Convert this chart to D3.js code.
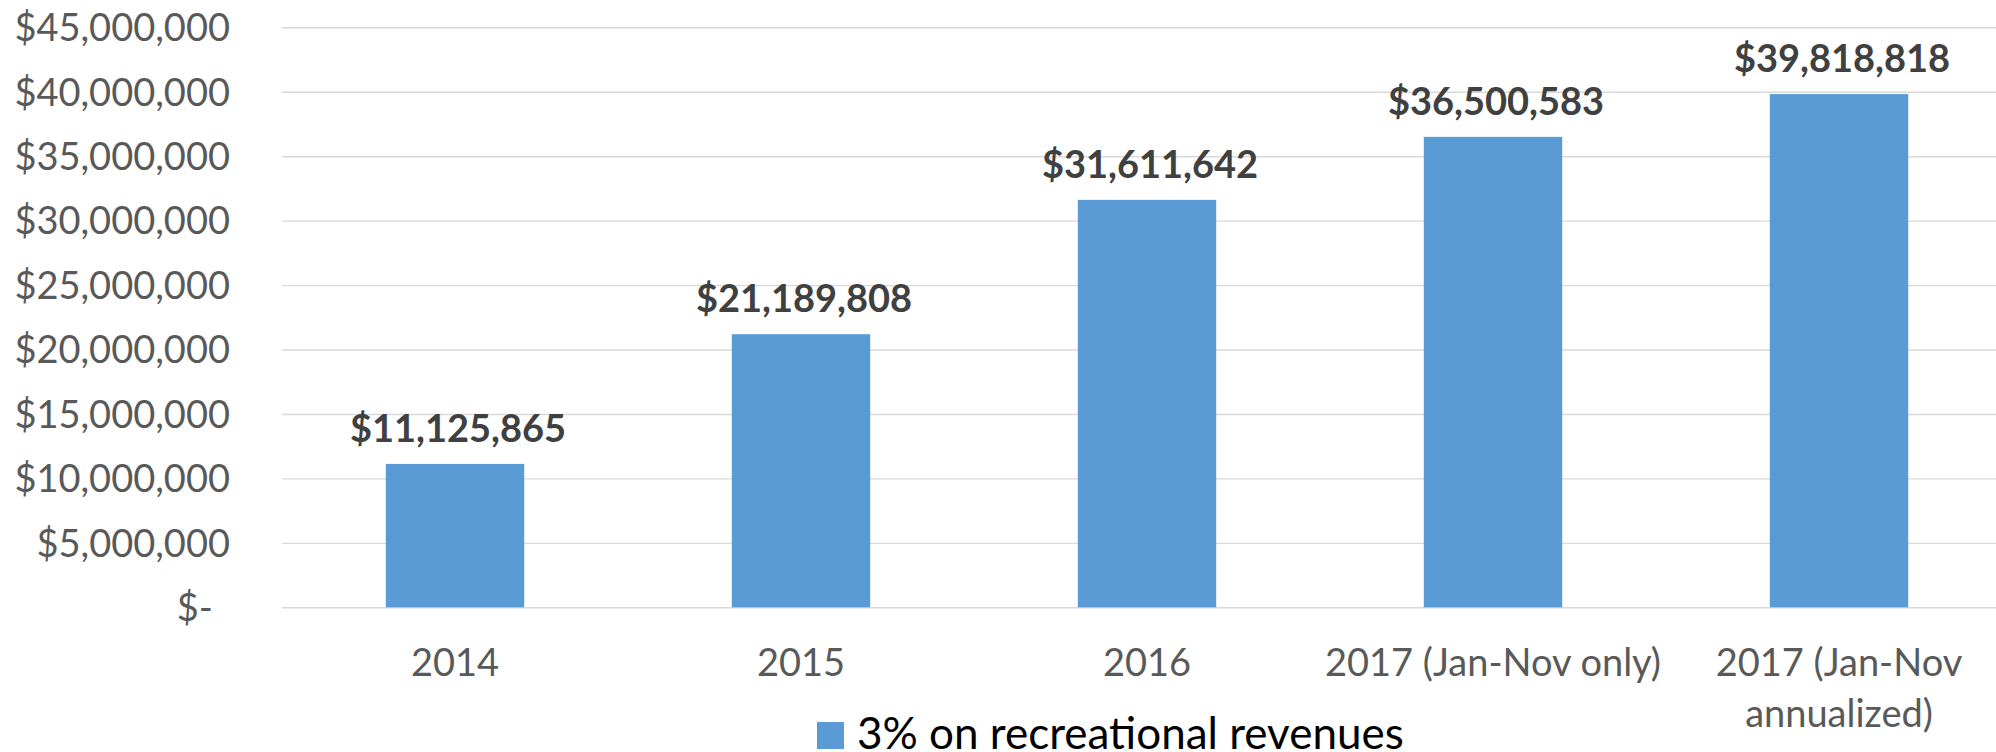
<!DOCTYPE html>
<html>
<head>
<meta charset="utf-8">
<script src="https://cdn.jsdelivr.net/npm/d3@7"></script>
<style>
	body { margin: 0; background: #fff; }
	svg { display: block; }
	text { font-family: Lato, "Open Sans", sans-serif; }
</style>
</head>
<body>
<div id="chart"></div>
<script>
var categories = [
	[ '2014' ],
	[ '2015' ],
	[ '2016' ],
	[ '2017 (Jan-Nov only)' ],
	[ '2017 (Jan-Nov', 'annualized)' ]
];
var revenues = [ 11125865, 21189808, 31611642, 36500583, 39818818 ];
var yTicks = [ 0, 5000000, 10000000, 15000000, 20000000, 25000000, 30000000, 35000000, 40000000, 45000000 ];
var seriesName = '3% on recreational revenues';

var width = 1996,
	height = 752;

var plot = { left: 282, right: 2012, top: 27.3, bottom: 607.3 };

var barColor = '#5B9BD5';
var fontSize = 38;

var svg = d3.select( '#chart' ).append( 'svg' )
	.attr( 'width', width )
	.attr( 'height', height );

var x = d3.scaleBand()
	.domain( d3.range( categories.length ) )
	.range( [ plot.left, plot.right ] )
	.paddingInner( 0.6 )
	.paddingOuter( 0.3 );

var y = d3.scaleLinear()
	.domain( [ 0, 45000000 ] )
	.range( [ plot.bottom, plot.top ] );

var money = d3.format( ',' );

// y axis + gridlines
var yAxis = svg.append( 'g' )
	.attr( 'transform', 'translate(' + plot.left + ',0)' )
	.call( d3.axisLeft( y )
		.tickValues( yTicks )
		.tickSizeInner( -( plot.right - plot.left ) )
		.tickSizeOuter( 0 )
		.tickPadding( 52 )
		.tickFormat( function ( d ) { return d === 0 ? '$-' : '$' + money( d ); } ) );

yAxis.select( '.domain' ).remove();
yAxis.selectAll( '.tick line' )
	.attr( 'stroke', '#D9D9D9' )
	.attr( 'stroke-width', 1.4 );
yAxis.selectAll( '.tick text' )
	.attr( 'fill', '#595959' )
	.attr( 'dy', '0.35em' )
	.style( 'font-size', fontSize + 'px' )
	.style( 'font-family', 'Lato, "Open Sans", sans-serif' )
	.attr( 'x', function ( d ) { return d === 0 ? -69 : -52; } );

// bars
svg.append( 'g' ).selectAll( 'rect' )
	.data( revenues )
	.enter()
	.append( 'rect' )
	.attr( 'x', function ( d, i ) { return x( i ); } )
	.attr( 'y', function ( d ) { return y( d ); } )
	.attr( 'width', x.bandwidth() )
	.attr( 'height', function ( d ) { return y( 0 ) - y( d ); } )
	.attr( 'fill', barColor );

// data labels
svg.append( 'g' ).selectAll( 'text' )
	.data( revenues )
	.enter()
	.append( 'text' )
	.attr( 'x', function ( d, i ) { return x( i ) + x.bandwidth() / 2 + 3; } )
	.attr( 'y', function ( d ) { return y( d ) - 22; } )
	.attr( 'text-anchor', 'middle' )
	.attr( 'fill', '#404040' )
	.style( 'font-size', fontSize + 'px' )
	.style( 'font-weight', 'bold' )
	.text( function ( d ) { return '$' + money( d ); } );

// category labels
var catLabels = svg.append( 'g' ).selectAll( 'text' )
	.data( categories )
	.enter()
	.append( 'text' )
	.attr( 'text-anchor', 'middle' )
	.attr( 'fill', '#595959' )
	.style( 'font-size', fontSize + 'px' )
	.attr( 'transform', function ( d, i ) {
		return 'translate(' + ( x( i ) + x.bandwidth() / 2 ) + ',' + ( plot.bottom + 69 ) + ')';
	} );

catLabels.selectAll( 'tspan' )
	.data( function ( d ) { return d; } )
	.enter()
	.append( 'tspan' )
	.attr( 'x', 0 )
	.attr( 'y', function ( d, i ) { return i * 50.7; } )
	.text( function ( d ) { return d; } );

// legend
var legend = svg.append( 'g' ).attr( 'transform', 'translate(817,722)' );
legend.append( 'rect' )
	.attr( 'width', 27 )
	.attr( 'height', 27 )
	.attr( 'fill', barColor );
legend.append( 'text' )
	.attr( 'x', 40 )
	.attr( 'y', 27 )
	.attr( 'fill', '#000' )
	.style( 'font-size', '44px' )
	.text( seriesName );
</script>
</body>
</html>
